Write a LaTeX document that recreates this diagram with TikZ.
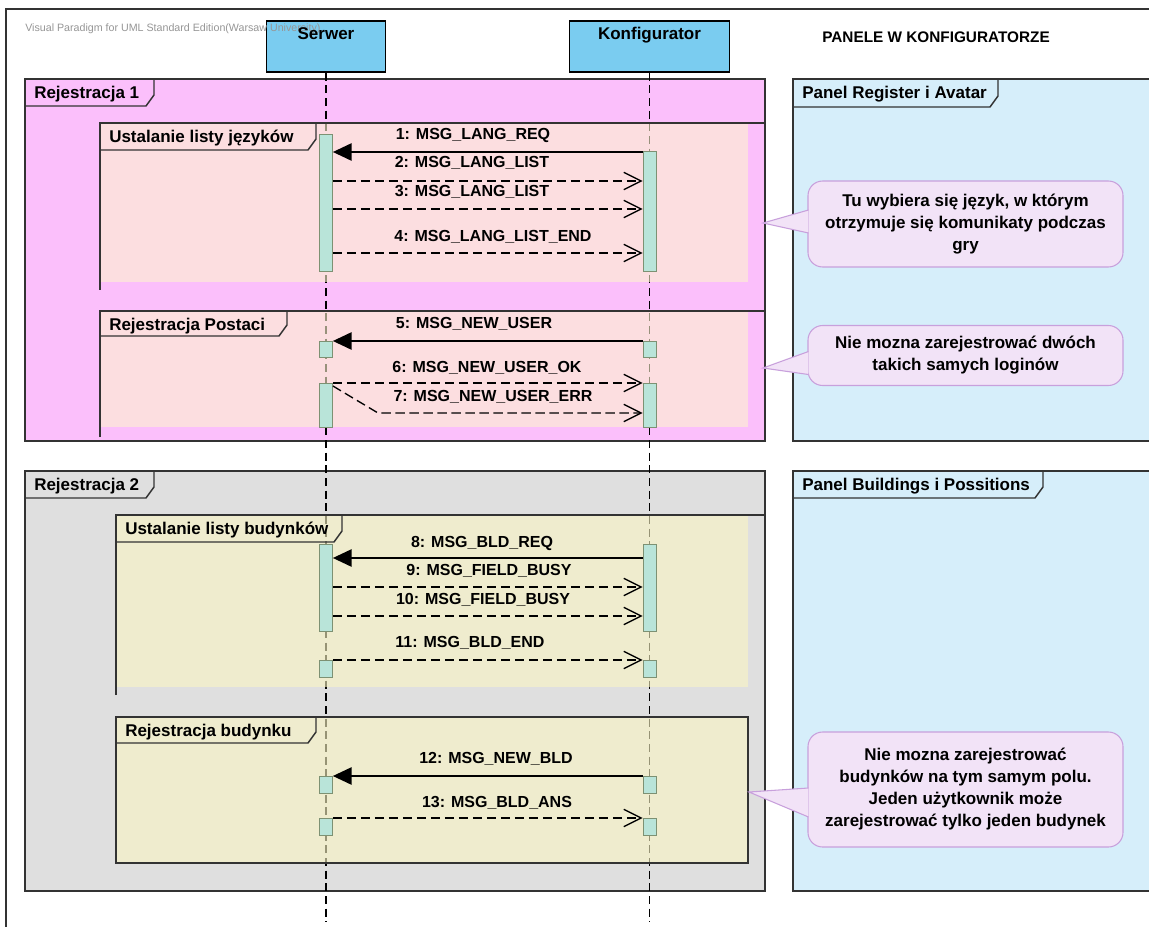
\documentclass[tikz,border=0pt]{standalone}
\usepackage{fontspec}
\setmainfont{Liberation Sans}
\usetikzlibrary{arrows.meta}
\definecolor{lineclr}{RGB}{51,51,51}
\definecolor{pinkout}{RGB}{251,191,251}
\definecolor{innerpink}{RGB}{254,243,206}
\definecolor{grayout}{RGB}{223,223,223}
\definecolor{inneryel}{RGB}{250,246,196}
\definecolor{panelblue}{RGB}{214,238,250}
\definecolor{headblue}{RGB}{122,204,240}
\definecolor{actfill}{RGB}{185,228,217}
\definecolor{actline}{RGB}{125,145,115}
\definecolor{notefill}{RGB}{242,227,247}
\definecolor{noteline}{RGB}{200,160,220}
\definecolor{wmark}{RGB}{150,150,150}
\newcommand\fragtab[6]{%
  \draw[frameline] (#2,#3) -- (#4,#3) -- (#4,{#5-11}) -- ({#4-8},#5) -- (#2,#5);
  \node[tabtext] (#1) at ({#2+9},{#3+19.5}) {#6};}
\newcommand\actbar[4]{%
  \node[act, minimum height={(#4-#3)*0.75pt}] (#1) at (#2,{(#3+#4)/2}) {};}
\begin{document}
\begin{tikzpicture}[x=0.75pt,y=-0.75pt,
  frameline/.style={draw=lineclr, line width=1.1pt},
  tabtext/.style={anchor=base west, inner sep=0pt, font=\bfseries\fontsize{12.75}{15}\selectfont},
  msglbl/.style={anchor=base, inner sep=0pt, font=\bfseries\fontsize{12}{14}\selectfont},
  act/.style={draw=actline, fill=actfill, line width=0.6pt, minimum width=9.75pt, inner sep=0pt},
  lifeline/.style={draw=black, line width=0.9pt, dash pattern=on 6pt off 3.5pt},
  sync/.style={draw=black, line width=1pt, -{Triangle[length=14pt,width=13pt]}},
  reply/.style={draw=black, line width=1pt, dash pattern=on 7pt off 3.5pt, -{Straight Barb[length=13pt,width=13pt]}},
  note/.style={draw=noteline, fill=notefill, line width=0.8pt, rounded corners=11pt, align=center, inner sep=0pt, font=\bfseries\fontsize{12.75}{16.5}\selectfont},
  head/.style={draw=black, fill=headblue, line width=1.1pt, inner sep=0pt},
  headtext/.style={anchor=base, inner sep=0pt, font=\bfseries\fontsize{12.75}{15}\selectfont},
  pointer/.style={draw=noteline, line width=0.8pt},
]
\clip (0,0) rectangle (1149,927);
\fill[white] (0,0) rectangle (1149,927);
% outer frame of the page
\draw[lineclr, line width=1pt] (1149,9) -- (6,9) -- (6,927);

% outer frames and panels
\filldraw[frameline, fill=pinkout] (25,79) rectangle (765,441);
\filldraw[frameline, fill=panelblue] (793,79) rectangle (1160,441);
\filldraw[frameline, fill=grayout] (25,471) rectangle (765,891);
\filldraw[frameline, fill=panelblue] (793,471) rectangle (1160,891);

% lifeline heads and lifelines
\node[head, minimum width=89.25pt, minimum height=38.25pt] (serwer) at (326,46.5) {};
\node[head, minimum width=120pt, minimum height=38.25pt] (konf) at (649.5,46.5) {};
\coordinate (serEnd) at (326,922);
\coordinate (konfEnd) at (649.5,922);
\draw[lifeline] (serwer.south) -- (serEnd);
\draw[lifeline] (konf.south) -- (konfEnd);

% inner fragments
\fill[innerpink, fill opacity=0.6] (100,123) rectangle (748,282);
\draw[frameline] (100,290) -- (100,123) -- (765,123);
\fill[innerpink, fill opacity=0.6] (100,311) rectangle (748,427);
\draw[frameline] (100,437) -- (100,311) -- (765,311);
\fill[inneryel, fill opacity=0.6] (116,515) rectangle (748,687);
\draw[frameline] (116,695) -- (116,515) -- (765,515);
\fill[inneryel, fill opacity=0.6] (116,717) rectangle (748,863);
\draw[frameline] (116,717) rectangle (748,863);

% tabs
\fragtab{tabR1}{25}{79}{154}{106}{Rejestracja 1}
\fragtab{tabP1}{793}{79}{998}{107}{Panel Register i Avatar}
\fragtab{tabUL}{100}{123}{316}{150}{Ustalanie listy języków}
\fragtab{tabRP}{100}{311}{287}{336}{Rejestracja Postaci}
\fragtab{tabR2}{25}{471}{154}{498}{Rejestracja 2}
\fragtab{tabP2}{793}{471}{1043}{498}{Panel Buildings i Possitions}
\fragtab{tabUB}{116}{515}{342}{542}{Ustalanie listy budynków}
\fragtab{tabRB}{116}{717}{316}{743}{Rejestracja budynku}

% activation bars
\actbar{s1}{326}{134}{271}
\actbar{k1}{649.5}{151}{271}
\actbar{s5}{326}{341}{357}
\actbar{k5}{649.5}{341}{357}
\actbar{s6}{326}{383}{427}
\actbar{k6}{649.5}{383}{427}
\actbar{s8}{326}{544}{631}
\actbar{k8}{649.5}{544}{631}
\actbar{s11}{326}{660}{677}
\actbar{k11}{649.5}{660}{677}
\actbar{s12}{326}{776}{793}
\actbar{k12}{649.5}{776}{793}
\actbar{s13}{326}{818}{835}
\actbar{k13}{649.5}{818}{835}

% message levels
\coordinate (y1) at (0,152);
\coordinate (y2) at (0,181);
\coordinate (y3) at (0,209);
\coordinate (y4) at (0,253);
\coordinate (y5) at (0,341);
\coordinate (y6) at (0,383);
\coordinate (y7) at (0,386);
\coordinate (bend7) at (378,413);
\coordinate (y8) at (0,558);
\coordinate (y9) at (0,587);
\coordinate (y10) at (0,616);
\coordinate (y11) at (0,660);
\coordinate (y12) at (0,776);
\coordinate (y13) at (0,818);

% messages
\draw[sync] (k1.west |- y1) -- (s1.east |- y1);
\draw[reply] (s1.east |- y2) -- (k1.west |- y2);
\draw[reply] (s1.east |- y3) -- (k1.west |- y3);
\draw[reply] (s1.east |- y4) -- (k1.west |- y4);
\draw[sync] (k5.west |- y5) -- (s5.east |- y5);
\draw[reply] (s6.east |- y6) -- (k6.west |- y6);
\draw[reply] (s6.east |- y7) -- (bend7) -- (k6.west |- bend7);
\draw[sync] (k8.west |- y8) -- (s8.east |- y8);
\draw[reply] (s8.east |- y9) -- (k8.west |- y9);
\draw[reply] (s8.east |- y10) -- (k8.west |- y10);
\draw[reply] (s11.east |- y11) -- (k11.west |- y11);
\draw[sync] (k12.west |- y12) -- (s12.east |- y12);
\draw[reply] (s13.east |- y13) -- (k13.west |- y13);

% message labels
\node[msglbl] (l1) at (473,140) {1: MSG\_LANG\_REQ};
\node[msglbl] (l2) at (472,168) {2: MSG\_LANG\_LIST};
\node[msglbl] (l3) at (472,197) {3: MSG\_LANG\_LIST};
\node[msglbl] (l4) at (493,242) {4: MSG\_LANG\_LIST\_END};
\node[msglbl] (l5) at (474,328) {5: MSG\_NEW\_USER};
\node[msglbl] (l6) at (487,372) {6: MSG\_NEW\_USER\_OK};
\node[msglbl] (l7) at (493,401) {7: MSG\_NEW\_USER\_ERR};
\node[msglbl] (l8) at (482,547) {8: MSG\_BLD\_REQ};
\node[msglbl] (l9) at (489,575) {9: MSG\_FIELD\_BUSY};
\node[msglbl] (l10) at (483,604) {10: MSG\_FIELD\_BUSY};
\node[msglbl] (l11) at (470,647) {11: MSG\_BLD\_END};
\node[msglbl] (l12) at (496,763) {12: MSG\_NEW\_BLD};
\node[msglbl] (l13) at (497,807) {13: MSG\_BLD\_ANS};

% notes
\node[note, minimum width=236.25pt, minimum height=64.5pt] (n1) at (965.5,224)
  {Tu wybiera się język, w którym\\otrzymuje się komunikaty podczas\\gry};
\coordinate (n1tip) at (763,223);
\path (n1.west) ++(1,-14) coordinate (n1a) ++(0,23) coordinate (n1b);
\fill[notefill] (n1a) -- (n1tip) -- (n1b) -- cycle;
\draw[pointer] (n1a) -- (n1tip) -- (n1b);

\node[note, minimum width=236.25pt, minimum height=45pt] (n2) at (965.5,355.5)
  {Nie mozna zarejestrować dwóch\\takich samych loginów};
\coordinate (n2tip) at (763,368);
\path (n2.west) ++(1,-4) coordinate (n2a) ++(0,23) coordinate (n2b);
\fill[notefill] (n2a) -- (n2tip) -- (n2b) -- cycle;
\draw[pointer] (n2a) -- (n2tip) -- (n2b);

\node[note, minimum width=236.25pt, minimum height=86.25pt] (n3) at (965.5,789.5)
  {Nie mozna zarejestrować\\budynków na tym samym polu.\\Jeden użytkownik może\\zarejestrować tylko jeden budynek};
\coordinate (n3tip) at (749,792);
\path (n3.west) ++(1,-1.5) coordinate (n3a) ++(0,29) coordinate (n3b);
\fill[notefill] (n3a) -- (n3tip) -- (n3b) -- cycle;
\draw[pointer] (n3a) -- (n3tip) -- (n3b);

% header texts
\node[anchor=base west, inner sep=0pt, text=wmark, font=\fontsize{8}{9}\selectfont] (wm) at (25,32)
  {Visual Paradigm for UML Standard Edition(Warsaw University)};
\node[headtext] (serwerlbl) at (326,40) {Serwer};
\node[headtext] (konflbl) at (649.5,40) {Konfigurator};
\node[anchor=base, inner sep=0pt, font=\bfseries\fontsize{11.5}{13}\selectfont] (panele) at (936,43)
  {PANELE W KONFIGURATORZE};
\end{tikzpicture}
\end{document}
